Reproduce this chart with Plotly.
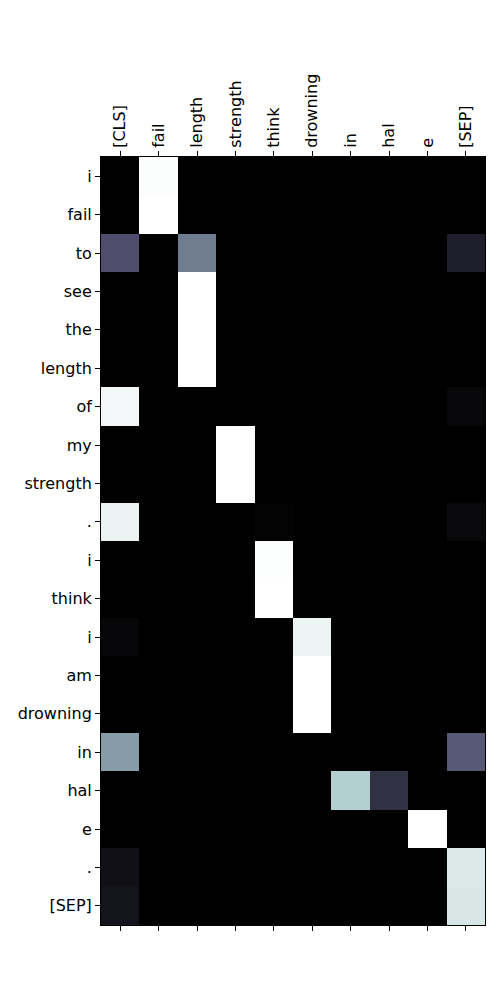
import plotly.graph_objects as go
import numpy as np

cols = ["[CLS]", "fail", "length", "strength", "think", "drowning", "in", "hal", "e", "[SEP]"]
rows = ["i", "fail", "to", "see", "the", "length", "of", "my", "strength", ".",
        "i", "think", "i", "am", "drowning", "in", "hal", "e", ".", "[SEP]"]

v_i1 = [0, 0.99, 0, 0, 0, 0, 0, 0, 0, 0]
v_fail = [0, 1, 0, 0, 0, 0, 0, 0, 0, 0]
v_to = [0.35, 0, 0.505, 0, 0, 0, 0, 0, 0, 0.14]
v_see = [0, 0, 1, 0, 0, 0, 0, 0, 0, 0]
v_the = [0, 0, 1, 0, 0, 0, 0, 0, 0, 0]
v_length = [0, 0, 1, 0, 0, 0, 0, 0, 0, 0]
v_of = [0.965, 0, 0, 0, 0, 0, 0, 0, 0, 0.035]
v_my = [0, 0, 0, 1, 0, 0, 0, 0, 0, 0]
v_strength = [0, 0, 0, 1, 0, 0, 0, 0, 0, 0]
v_dot1 = [0.94, 0, 0, 0, 0.012, 0, 0, 0, 0, 0.04]
v_i2 = [0, 0, 0, 0, 0.995, 0, 0, 0, 0, 0]
v_think = [0, 0, 0, 0, 1, 0, 0, 0, 0, 0]
v_i3 = [0.03, 0, 0, 0, 0, 0.95, 0, 0, 0, 0]
v_am = [0, 0, 0, 0, 0, 1, 0, 0, 0, 0]
v_drowning = [0, 0, 0, 0, 0, 1, 0, 0, 0, 0]
v_in = [0.61, 0, 0, 0, 0, 0, 0, 0, 0, 0.39]
v_hal = [0, 0, 0, 0, 0, 0, 0.785, 0.22, 0, 0]
v_e = [0, 0, 0, 0, 0, 0, 0, 0, 1, 0]
v_dot2 = [0.07, 0, 0, 0, 0, 0, 0, 0, 0, 0.9]
v_sep = [0.09, 0, 0, 0, 0, 0, 0, 0, 0, 0.89]

z = [v_i1, v_fail, v_to, v_see, v_the, v_length, v_of, v_my, v_strength, v_dot1,
     v_i2, v_think, v_i3, v_am, v_drowning, v_in, v_hal, v_e, v_dot2, v_sep]

# matplotlib "bone" colormap breakpoints
bone = [
    [0.0, "rgb(0,0,0)"],
    [0.365079, "rgb(%d,%d,%d)" % (0.319444 * 255, 0.319444 * 255, 0.444444 * 255)],
    [0.746032, "rgb(%d,%d,%d)" % (0.652778 * 255, 0.777778 * 255, 0.777778 * 255)],
    [1.0, "rgb(255,255,255)"],
]

xi = list(range(len(cols)))
yi = list(range(len(rows)))

fig = go.Figure()
fig.add_trace(go.Heatmap(z=z, x=xi, y=yi, colorscale=bone, zmin=0, zmax=1,
                         showscale=False, hoverongaps=False))
fig.add_trace(go.Scatter(x=[0], y=[0], xaxis="x2", yaxis="y", mode="markers",
                         marker=dict(opacity=0), showlegend=False, hoverinfo="skip"))

font = dict(family="DejaVu Sans", size=16, color="black")
fig.update_layout(
    width=500, height=1000,
    margin=dict(l=101, r=15, t=157, b=75),
    paper_bgcolor="white", plot_bgcolor="white",
    font=font,
    xaxis=dict(side="top", range=[-0.5, 9.5], tickvals=xi, ticktext=cols,
               tickangle=-90, ticks="outside", ticklen=5, tickcolor="black",
               showline=True, linecolor="black", linewidth=1, mirror=True,
               showgrid=False, zeroline=False, tickfont=font),
    xaxis2=dict(side="bottom", overlaying="x", range=[-0.5, 9.5], tickvals=xi,
                showticklabels=False, ticks="outside", ticklen=5, tickcolor="black",
                showline=False, showgrid=False, zeroline=False),
    yaxis=dict(range=[19.5, -0.5], tickvals=yi, ticktext=rows,
               ticks="outside", ticklen=5, tickcolor="black",
               showline=True, linecolor="black", linewidth=1, mirror=True,
               showgrid=False, zeroline=False, tickfont=font),
)

fig.write_html("out.html")
